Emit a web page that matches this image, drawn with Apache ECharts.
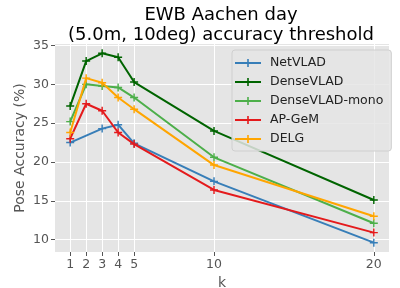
<!DOCTYPE html>
<html><head><meta charset="utf-8">
<script src="https://cdn.jsdelivr.net/npm/echarts@6/dist/echarts.min.js"></script>
<style>html,body{margin:0;padding:0;background:#fff}#c{width:400px;height:288px}</style>
</head><body><div id="c"></div>
<script>
const titleLines = ["EWB Aachen day", "(5.0m, 10deg) accuracy threshold"];
const xTicks = [1, 2, 3, 4, 5, 10, 20];
const yTicks = [10, 15, 20, 25, 30, 35];
const seriesNames = ["NetVLAD", "DenseVLAD", "DenseVLAD-mono", "AP-GeM", "DELG"];
const kNetVLAD = [1, 3, 4, 5, 10, 20];
const netVLAD = [22.5, 24.3, 24.8, 22.4, 17.5, 9.6];
const kAll = [1, 2, 3, 4, 5, 10, 20];
const denseVLAD = [27.2, 33.0, 34.0, 33.5, 30.3, 24.0, 15.1];
const denseVLADmono = [25.2, 30.0, 29.8, 29.6, 28.3, 20.6, 12.1];
const apGeM = [23.0, 27.5, 26.6, 23.8, 22.3, 16.4, 10.9];
const delg = [23.8, 30.8, 30.2, 28.3, 26.8, 19.6, 13.0];
const colors = ["#377eb8", "#006400", "#4daf4a", "#e41a1c", "#ffa500"];

const pairs = (xs, ys) => xs.map((x, i) => [x, ys[i]]);
const seriesData = [
  pairs(kNetVLAD, netVLAD),
  pairs(kAll, denseVLAD),
  pairs(kAll, denseVLADmono),
  pairs(kAll, apGeM),
  pairs(kAll, delg)
];
const plus = 'path://M0,4.1h10v1.8h-10z M4.1,0h1.8v10h-1.8z';
const legendIcon = 'path://M0,3h26v2h-26z M12.2,0h1.6v8h-1.6z';
const font = 'DejaVu Sans';

const chart = echarts.init(document.getElementById('c'), null, {renderer: 'canvas'});
chart.setOption({
  animation: false,
  backgroundColor: '#ffffff',
  title: {
    text: titleLines.join('\n'),
    left: 216, top: 0, textAlign: 'center',
    textStyle: {fontFamily: font, fontSize: 18, fontWeight: 'normal', color: '#000', lineHeight: 20}
  },
  grid: {left: 55, right: 11, top: 44, bottom: 36, show: true, backgroundColor: '#e5e5e5', borderWidth: 0, outerBoundsMode: 'none', containLabel: false},
  legend: {
    orient: 'vertical', left: 232, top: 50,
    padding: [6, 8, 5, 3],
    itemGap: 5, itemWidth: 26, itemHeight: 8,
    backgroundColor: 'rgba(229,229,229,0.85)', borderColor: '#cfcfcf', borderWidth: 1, borderRadius: 3,
    textStyle: {fontFamily: font, fontSize: 12.5, color: '#222', lineHeight: 14, padding: [0, 0, 0, 4]},
    data: seriesNames.map(n => ({name: n, icon: legendIcon}))
  },
  xAxis: {
    type: 'value', min: 0.05, max: 20.95,
    name: 'k', nameLocation: 'middle', nameGap: 24, nameMoveOverlap: false,
    nameTextStyle: {fontFamily: font, fontSize: 14, color: '#555'},
    axisLine: {show: false},
    axisTick: {show: true, customValues: xTicks, length: 4, lineStyle: {color: '#555'}},
    axisLabel: {customValues: xTicks, fontFamily: font, fontSize: 12.5, color: '#555', margin: 6},
    splitLine: {show: true, lineStyle: {color: '#ffffff', width: 1}}
  },
  yAxis: {
    type: 'value', min: 8.4, max: 35.2,
    name: 'Pose Accuracy (%)', nameLocation: 'middle', nameGap: 28, nameRotate: 90, nameMoveOverlap: false,
    nameTextStyle: {fontFamily: font, fontSize: 14, color: '#555'},
    axisLine: {show: false},
    axisTick: {show: true, customValues: yTicks, length: 4, lineStyle: {color: '#555'}},
    axisLabel: {customValues: yTicks, fontFamily: font, fontSize: 12.5, color: '#555', margin: 6},
    splitLine: {show: true, lineStyle: {color: '#ffffff', width: 1}}
  },
  series: seriesNames.map((n, i) => ({
    name: n, type: 'line', data: seriesData[i],
    symbol: plus, symbolSize: 8, showSymbol: true,
    lineStyle: {color: colors[i], width: 2},
    itemStyle: {color: colors[i]},
    z: 2 + i
  }))
});
</script></body></html>
